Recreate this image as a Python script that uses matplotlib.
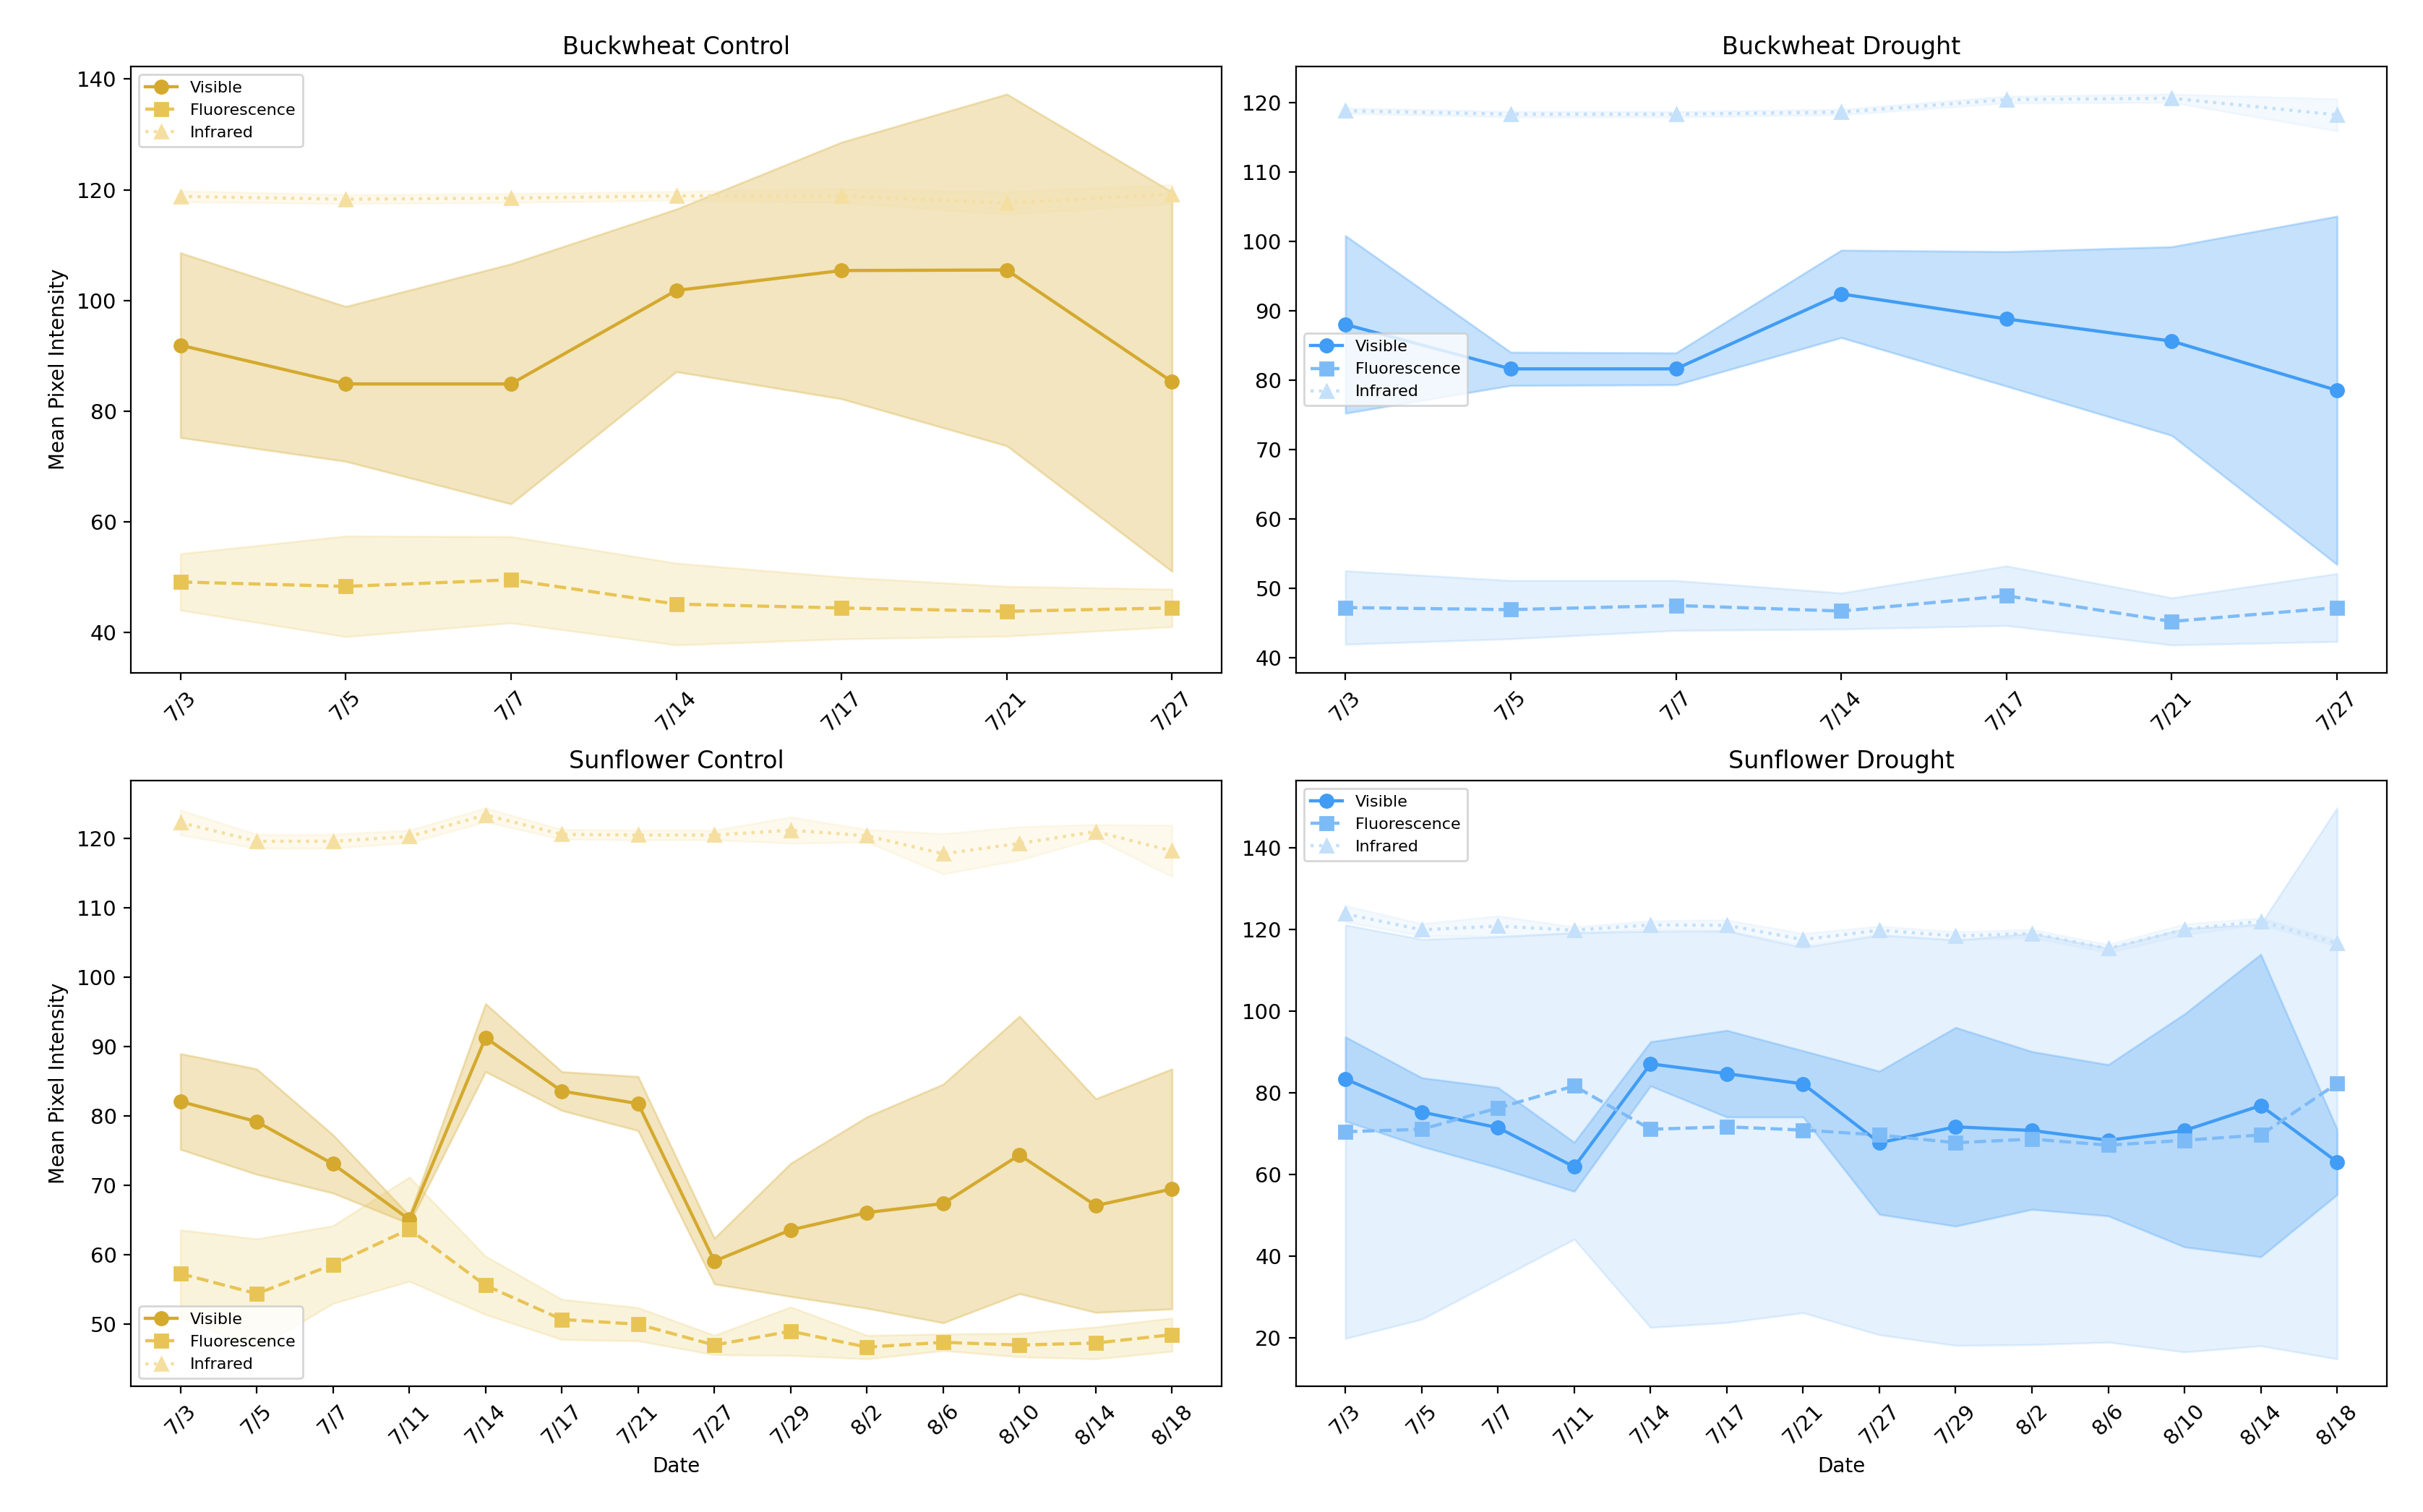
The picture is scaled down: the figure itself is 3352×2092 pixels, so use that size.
import matplotlib
matplotlib.use("Agg")
import matplotlib.pyplot as plt
import numpy as np

# dates
buck_dates = ["7/3", "7/5", "7/7", "7/14", "7/17", "7/21", "7/27"]
sun_dates = ["7/3", "7/5", "7/7", "7/11", "7/14", "7/17", "7/21", "7/27",
             "7/29", "8/2", "8/6", "8/10", "8/14", "8/18"]

# Buckwheat Control (mean, std)
bc_vis = [91.9, 84.9, 84.9, 101.8, 105.4, 105.5, 85.3]
bc_vis_sd = [16.7, 14.0, 21.7, 14.7, 23.2, 31.8, 34.3]
bc_flu = [49.1, 48.3, 49.5, 45.1, 44.4, 43.8, 44.4]
bc_flu_sd = [5.1, 9.1, 7.8, 7.4, 5.6, 4.5, 3.4]
bc_ir = [118.8, 118.3, 118.5, 118.9, 118.9, 117.6, 119.2]
bc_ir_sd = [1.0, 0.8, 0.8, 0.8, 1.2, 2.0, 1.7]

# Buckwheat Drought
bd_vis = [88.0, 81.6, 81.6, 92.4, 88.8, 85.6, 78.5]
bd_vis_sd = [12.8, 2.4, 2.3, 6.3, 9.7, 13.6, 25.1]
bd_flu = [47.2, 46.9, 47.5, 46.7, 48.9, 45.2, 47.2]
bd_flu_sd = [5.3, 4.2, 3.6, 2.6, 4.3, 3.4, 4.9]
bd_ir = [118.8, 118.3, 118.3, 118.6, 120.4, 120.6, 118.2]
bd_ir_sd = [0.4, 0.4, 0.4, 0.4, 0.5, 0.6, 2.3]

# Sunflower Control
sc_vis = [82.1, 79.2, 73.1, 65.1, 91.3, 83.6, 81.8, 59.1, 63.6, 66.1, 67.4, 74.4, 67.1, 69.5]
sc_vis_sd = [6.9, 7.6, 4.2, 0.6, 4.9, 2.8, 3.9, 3.3, 9.6, 13.8, 17.2, 20.0, 15.4, 17.3]
sc_flu = [57.3, 54.4, 58.6, 63.7, 55.6, 50.7, 50.0, 47.0, 49.0, 46.7, 47.4, 47.0, 47.3, 48.5]
sc_flu_sd = [6.3, 7.9, 5.6, 7.5, 4.2, 2.9, 2.4, 1.4, 3.5, 1.7, 1.2, 1.7, 2.3, 2.4]
sc_ir = [122.3, 119.6, 119.6, 120.3, 123.4, 120.6, 120.5, 120.5, 121.2, 120.4, 117.8, 119.3, 121.0, 118.2]
sc_ir_sd = [1.8, 1.0, 1.0, 0.9, 1.0, 0.7, 0.7, 0.7, 1.9, 0.9, 2.9, 2.4, 1.0, 3.7]

# Sunflower Drought
sd_vis = [83.4, 75.3, 71.5, 61.9, 87.1, 84.7, 82.2, 67.8, 71.7, 70.8, 68.4, 70.8, 76.9, 63.1]
sd_vis_sd = [10.3, 8.4, 9.8, 6.0, 5.4, 10.6, 8.1, 17.5, 24.3, 19.3, 18.5, 28.5, 37.0, 8.0]
sd_flu = [70.5, 71.1, 76.3, 81.7, 71.1, 71.7, 70.9, 69.7, 67.8, 68.7, 67.2, 68.4, 69.7, 82.3]
sd_flu_sd = [50.6, 46.5, 41.9, 37.5, 48.5, 47.9, 44.7, 48.9, 49.6, 50.3, 48.2, 51.8, 51.6, 67.4]
sd_ir = [123.8, 119.9, 120.8, 119.8, 121.1, 121.0, 117.5, 119.8, 118.4, 119.0, 115.3, 120.0, 122.0, 116.6]
sd_ir_sd = [2.0, 1.5, 2.5, 0.8, 1.0, 1.3, 1.5, 1.0, 1.0, 1.0, 1.0, 1.3, 0.8, 0.8]

gold = {"Visible": "#D4A92E", "Fluorescence": "#E8C454", "Infrared": "#F5DFA0"}
blue = {"Visible": "#409CF5", "Fluorescence": "#7DBBF7", "Infrared": "#C4E0FA"}
styles = {"Visible": ("-", "o", 0.30), "Fluorescence": ("--", "s", 0.20), "Infrared": (":", "^", 0.18)}

panels = [
    ("Buckwheat Control", buck_dates, [(bc_vis, bc_vis_sd), (bc_flu, bc_flu_sd), (bc_ir, bc_ir_sd)], gold, "upper left"),
    ("Buckwheat Drought", buck_dates, [(bd_vis, bd_vis_sd), (bd_flu, bd_flu_sd), (bd_ir, bd_ir_sd)], blue, "center left"),
    ("Sunflower Control", sun_dates, [(sc_vis, sc_vis_sd), (sc_flu, sc_flu_sd), (sc_ir, sc_ir_sd)], gold, "lower left"),
    ("Sunflower Drought", sun_dates, [(sd_vis, sd_vis_sd), (sd_flu, sd_flu_sd), (sd_ir, sd_ir_sd)], blue, "upper left"),
]

fig, axes = plt.subplots(2, 2, figsize=(16.76, 10.46), dpi=200)
fig.subplots_adjust(left=0.054, right=0.985, top=0.956, bottom=0.083, wspace=0.068, hspace=0.178)

for ax, (title, dates, series, cols, loc) in zip(axes.flat, panels):
    x = np.arange(len(dates))
    for name, (m, sd) in zip(["Visible", "Fluorescence", "Infrared"], series):
        ls, mk, a = styles[name]
        m = np.array(m)
        sd = np.array(sd)
        ax.plot(x, m, linestyle=ls, marker=mk, color=cols[name], lw=1.6, markersize=6.5, label=name)
        ax.fill_between(x, m - sd, m + sd, color=cols[name], alpha=a, lw=1)
    ax.set_xticks(x)
    ax.set_xticklabels(dates, rotation=45, fontsize=10.5)
    ax.tick_params(axis="y", labelsize=10.5)
    ax.set_title(title, fontsize=12)
    ax.legend(loc=loc, fontsize=8)

axes[0, 0].set_ylabel("Mean Pixel Intensity", fontsize=10)
axes[1, 0].set_ylabel("Mean Pixel Intensity", fontsize=10)
axes[1, 0].set_xlabel("Date", fontsize=10)
axes[1, 1].set_xlabel("Date", fontsize=10)

plt.savefig("out.png", dpi=200)
